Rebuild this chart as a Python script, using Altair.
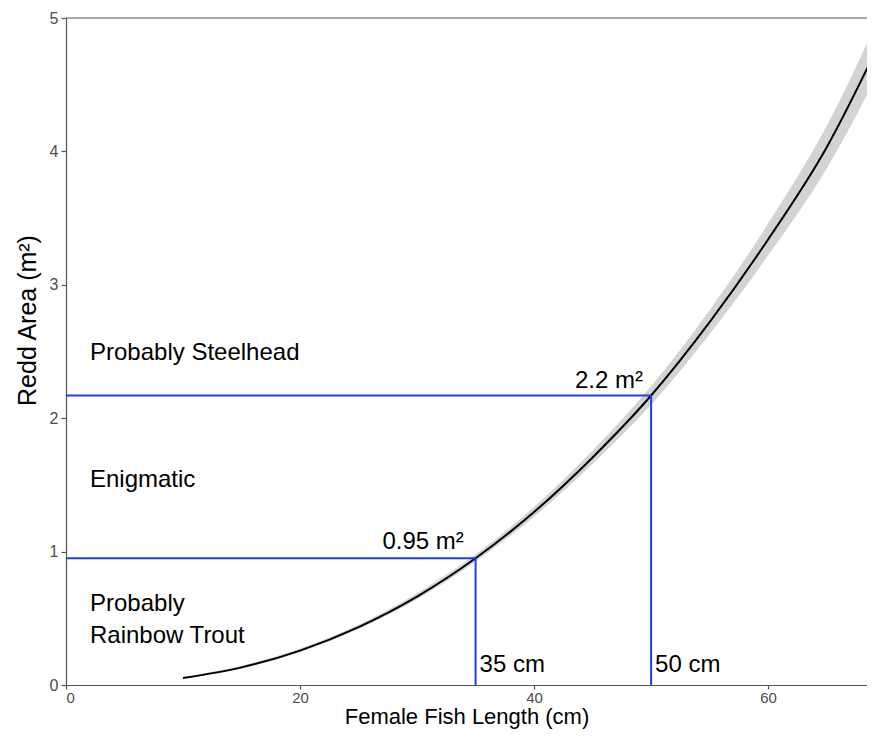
import altair as alt
import pandas as pd

# Fitted curve
length_cm = [10, 15, 20, 25, 30, 35, 40, 45, 50, 55, 60, 65, 70]
area_fit = [0.052, 0.132, 0.258, 0.434, 0.663, 0.95, 1.297, 1.706, 2.17, 2.72, 3.34, 4.03, 4.90]
area_low = [0.046, 0.123, 0.247, 0.420, 0.642, 0.925, 1.262, 1.658, 2.10, 2.63, 3.22, 3.87, 4.69]
area_high = [0.061, 0.144, 0.273, 0.452, 0.688, 0.978, 1.335, 1.758, 2.24, 2.81, 3.46, 4.19, 5.11]

# Threshold guide lines
thr_len = [35, 50]
thr_area = [0.95, 2.17]

# Labels
zone_labels = ["Probably Steelhead", "Enigmatic", "Probably", "Rainbow Trout"]
zone_x = [2.05, 2.05, 2.05, 2.05]
zone_y = [2.49, 1.54, 0.61, 0.37]

area_labels = ["0.95 m²", "2.2 m²"]
area_lab_x = [34.0, 49.3]
area_lab_y = [1.07, 2.28]

len_labels = ["35 cm", "50 cm"]
len_lab_x = [35, 50]
len_lab_y = [0.15, 0.15]

curve = pd.DataFrame({"x": length_cm, "y": area_fit, "lo": area_low, "hi": area_high})
hseg = pd.DataFrame({"x": [0] * 2, "x2": thr_len, "y": thr_area})
vseg = pd.DataFrame({"x": thr_len, "y": [0] * 2, "y2": thr_area})
zones = pd.DataFrame({"x": zone_x, "y": zone_y, "t": zone_labels})
alabs = pd.DataFrame({"x": area_lab_x, "y": area_lab_y, "t": area_labels})
llabs = pd.DataFrame({"x": len_lab_x, "y": len_lab_y, "t": len_labels})

X_MAX = 68.45
top = pd.DataFrame({"x": [0], "x2": [X_MAX], "y": [5]})

FONT = "Liberation Sans"
BLUE = "#1f40e8"
xs = alt.Scale(domain=[0, X_MAX], nice=False, zero=False)
ys = alt.Scale(domain=[0, 5], nice=False)

xax = alt.Axis(values=[0, 20, 40, 60], format="d", title="Female Fish Length (cm)", grid=False,
               labelFontSize=15, labelColor="#4d4d4d", titleFontSize=22, titleFont=FONT,
               labelFont=FONT, titleFontWeight="normal", domainColor="#555555",
               tickColor="#555555", tickSize=4, labelPadding=1,
               titleBaseline="alphabetic", titleY=38,
               titleColor="black", domainWidth=1.2, tickWidth=1.2)
yax = alt.Axis(values=[0, 1, 2, 3, 4, 5], format="d", title="Redd Area (m²)", grid=False,
               labelFontSize=16, labelColor="#4d4d4d", titleFontSize=25, titleFont=FONT,
               labelFont=FONT, titleFontWeight="normal", domainColor="#555555",
               tickColor="#555555", tickSize=5, labelPadding=3, titlePadding=9,
               titleColor="black", domainWidth=1.2, tickWidth=1.2, titleY=302)

band = alt.Chart(curve).mark_area(color="#d3d3d3", opacity=1, clip=True, interpolate="monotone").encode(
    x=alt.X("x:Q", scale=xs, axis=xax), y=alt.Y("lo:Q", scale=ys, axis=yax), y2="hi:Q")
line = alt.Chart(curve).mark_line(color="black", strokeWidth=2, clip=True, interpolate="monotone").encode(
    x=alt.X("x:Q", scale=xs), y=alt.Y("y:Q", scale=ys))
hrule = alt.Chart(hseg).mark_rule(color=BLUE, strokeWidth=2).encode(
    x=alt.X("x:Q", scale=xs), x2="x2:Q", y=alt.Y("y:Q", scale=ys))
vrule = alt.Chart(vseg).mark_rule(color=BLUE, strokeWidth=2).encode(
    x=alt.X("x:Q", scale=xs), y=alt.Y("y:Q", scale=ys), y2="y2:Q")
toprule = alt.Chart(top).mark_rule(color="#555555", strokeWidth=1.2).encode(
    x=alt.X("x:Q", scale=xs), x2="x2:Q", y=alt.Y("y:Q", scale=ys))
ztext = alt.Chart(zones).mark_text(align="left", baseline="middle", fontSize=24, font=FONT, color="black").encode(
    x=alt.X("x:Q", scale=xs), y=alt.Y("y:Q", scale=ys), text="t:N")
atext = alt.Chart(alabs).mark_text(align="right", baseline="middle", fontSize=24, font=FONT, color="black").encode(
    x=alt.X("x:Q", scale=xs), y=alt.Y("y:Q", scale=ys), text="t:N")
ltext = alt.Chart(llabs).mark_text(align="left", baseline="middle", fontSize=24, font=FONT, color="black", dx=4).encode(
    x=alt.X("x:Q", scale=xs), y=alt.Y("y:Q", scale=ys), text="t:N")

chart = alt.layer(band, line, hrule, vrule, toprule, ztext, atext, ltext).properties(
    width=801, height=667,
    autosize=alt.AutoSizeParams(type="none"),
    padding={"left": 58, "top": 10, "right": 0, "bottom": 45},
).configure_view(stroke=None)

chart.save("out.html", embed_options={"renderer": "svg", "actions": False})
